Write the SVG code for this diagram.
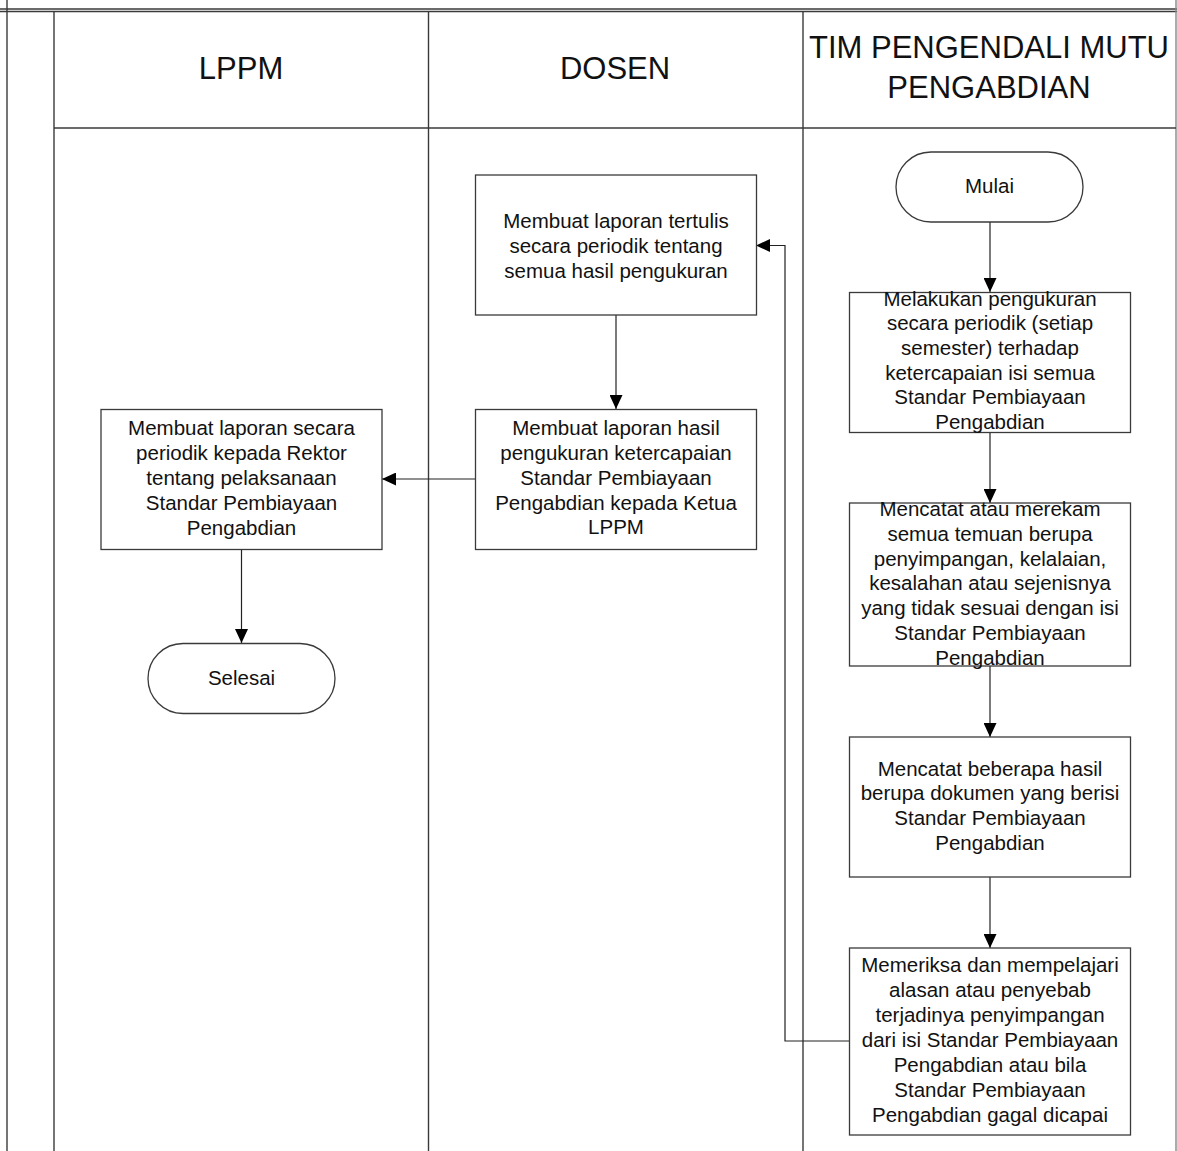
<svg xmlns="http://www.w3.org/2000/svg" width="1177" height="1151" viewBox="0 0 1177 1151">
<style>
.lane{stroke:#3a3a3a;stroke-width:1.4;fill:none}
.box{fill:#fff;stroke:#3a3a3a;stroke-width:1.3}
.shadow{fill:#bdbdbd}
.t{font-family:"Liberation Sans",Arial,sans-serif;font-size:20.5px;fill:#111;text-anchor:middle}
.h{font-family:"Liberation Sans",Arial,sans-serif;font-size:31px;fill:#111;text-anchor:middle}
.c{stroke:#222;stroke-width:1.2;fill:none;marker-end:url(#ah)}
</style>
<defs>
<marker id="ah" markerWidth="14" markerHeight="13" refX="14" refY="6.5" orient="auto" markerUnits="userSpaceOnUse">
<path d="M0,0 L14,6.5 L0,13 Z" fill="#000"/>
</marker>
</defs>
<rect x="0" y="0" width="1177" height="1151" fill="#fff"/>
<g id="pool">
<line class="lane" x1="0" y1="9" x2="1177" y2="9"/>
<line class="lane" x1="0" y1="11.5" x2="1177" y2="11.5"/>
<line class="lane" x1="7" y1="0" x2="7" y2="1151"/>
<line class="lane" x1="54" y1="11" x2="54" y2="1151"/>
<line class="lane" x1="428.5" y1="11" x2="428.5" y2="1151"/>
<line class="lane" x1="803" y1="11" x2="803" y2="1151"/>
<line class="lane" x1="1176" y1="0" x2="1176" y2="1151" style="stroke:#888"/>
<line class="lane" x1="54" y1="128" x2="1176" y2="128"/>
</g>
<g id="lane-lppm"><text class="h" x="241" y="79">LPPM</text></g>
<g id="lane-dosen"><text class="h" x="615" y="79">DOSEN</text></g>
<g id="lane-tim"><text class="h" x="989" y="58">TIM PENGENDALI MUTU</text><text class="h" x="989" y="98">PENGABDIAN</text></g>

<g id="connectors">
<path class="c" d="M990,222 L990,292"/>
<path class="c" d="M990,432 L990,503"/>
<path class="c" d="M990,666 L990,737"/>
<path class="c" d="M990,877 L990,948"/>
<path class="c" d="M849,1041 L785,1041 L785,245.5 L756,245.5"/>
<path class="c" d="M616,315 L616,409"/>
<path class="c" d="M475,479 L382,479"/>
<path class="c" d="M241.5,549 L241.5,643"/>
</g>

<g id="mulai">
<rect class="box" x="896" y="152" width="187" height="70" rx="35" ry="35"/>
<text class="t" x="989.5" y="193">Mulai</text>
</g>
<g id="tim1">
<rect class="box" x="849.5" y="292.5" width="281" height="140"/>
<text class="t" x="990" y="305.5">Melakukan pengukuran</text>
<text class="t" x="990" y="330.2">secara periodik (setiap</text>
<text class="t" x="990" y="354.9">semester) terhadap</text>
<text class="t" x="990" y="379.6">ketercapaian isi semua</text>
<text class="t" x="990" y="404.3">Standar Pembiayaan</text>
<text class="t" x="990" y="429">Pengabdian</text>
</g>
<g id="tim2">
<rect class="box" x="849.5" y="503" width="281" height="163"/>
<text class="t" x="990" y="515.7">Mencatat atau merekam</text>
<text class="t" x="990" y="540.6">semua temuan berupa</text>
<text class="t" x="990" y="565.5">penyimpangan, kelalaian,</text>
<text class="t" x="990" y="590.4">kesalahan atau sejenisnya</text>
<text class="t" x="990" y="615.3">yang tidak sesuai dengan isi</text>
<text class="t" x="990" y="640.2">Standar Pembiayaan</text>
<text class="t" x="990" y="665">Pengabdian</text>
</g>
<g id="tim3">
<rect class="box" x="849.5" y="737" width="281" height="140"/>
<text class="t" x="990" y="775.5">Mencatat beberapa hasil</text>
<text class="t" x="990" y="800.3">berupa dokumen yang berisi</text>
<text class="t" x="990" y="825.1">Standar Pembiayaan</text>
<text class="t" x="990" y="850">Pengabdian</text>
</g>
<g id="tim4">
<rect class="box" x="849.5" y="948" width="281" height="187"/>
<text class="t" x="990" y="972.3">Memeriksa dan mempelajari</text>
<text class="t" x="990" y="997.3">alasan atau penyebab</text>
<text class="t" x="990" y="1022.3">terjadinya penyimpangan</text>
<text class="t" x="990" y="1047.3">dari isi Standar Pembiayaan</text>
<text class="t" x="990" y="1072.3">Pengabdian atau bila</text>
<text class="t" x="990" y="1097.3">Standar Pembiayaan</text>
<text class="t" x="990" y="1122.3">Pengabdian gagal dicapai</text>
</g>
<g id="dosen1">
<rect class="box" x="475.5" y="175" width="281" height="140"/>
<text class="t" x="616" y="228.3">Membuat laporan tertulis</text>
<text class="t" x="616" y="253">secara periodik tentang</text>
<text class="t" x="616" y="277.5">semua hasil pengukuran</text>
</g>
<g id="dosen2">
<rect class="box" x="475.5" y="409.5" width="281" height="140"/>
<text class="t" x="616" y="435">Membuat laporan hasil</text>
<text class="t" x="616" y="460">pengukuran ketercapaian</text>
<text class="t" x="616" y="485">Standar Pembiayaan</text>
<text class="t" x="616" y="510">Pengabdian kepada Ketua</text>
<text class="t" x="616" y="534">LPPM</text>
</g>
<g id="lppm1">
<rect class="box" x="101" y="409.5" width="281" height="140"/>
<text class="t" x="241.5" y="435">Membuat laporan secara</text>
<text class="t" x="241.5" y="460">periodik kepada Rektor</text>
<text class="t" x="241.5" y="485">tentang pelaksanaan</text>
<text class="t" x="241.5" y="510">Standar Pembiayaan</text>
<text class="t" x="241.5" y="535">Pengabdian</text>
</g>
<g id="selesai">
<rect class="box" x="148" y="643.5" width="187" height="70" rx="35" ry="35"/>
<text class="t" x="241.5" y="685">Selesai</text>
</g>
</svg>
